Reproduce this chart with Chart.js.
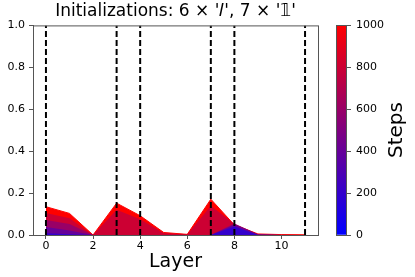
<!DOCTYPE html>
<html>
<head>
<meta charset="utf-8">
<script src="https://cdn.jsdelivr.net/npm/chart.js@4"></script>
<style>
  body { margin: 0; background: #fff; }
  #wrap { position: relative; width: 415px; height: 277px; }
  #main { position: absolute; left: 0; top: 0; }
  #cbar { position: absolute; left: 330px; top: 0; }
</style>
</head>
<body>
<div id="wrap">
  <canvas id="main" width="330" height="277"></canvas>
  <canvas id="cbar" width="85" height="277"></canvas>
</div>
<script>
// layers on the x axis
const layers = [0, 1, 2, 3, 4, 5, 6, 7, 8, 9, 10, 11];
// layers initialised with 'I' (dashed lines)
const identityLayers = [0, 3, 4, 7, 8, 11];
const xTicks = [0, 2, 4, 6, 8, 10];
const yTicks = [0, 0.2, 0.4, 0.6, 0.8, 1.0];
const stepTicks = [0, 200, 400, 600, 800, 1000];

// value per layer at a few training steps
const steps = [0, 200, 400, 600, 800, 1000];
const step0    = [0, 0, 0, 0, 0, 0, 0, 0, 0, 0, 0, 0];
const step200  = [0.008, 0.003, 0, 0, 0, 0, 0, 0, 0.04, 0, 0, 0];
const step400  = [0.038, 0.022, 0, 0, 0, 0, 0, 0, 0.05, 0.002, 0, 0];
const step600  = [0.072, 0.052, 0, 0, 0, 0, 0, 0, 0.055, 0.004, 0, 0];
const step800  = [0.105, 0.080, 0, 0.12, 0.075, 0.008, 0.002, 0.14, 0.052, 0.004, 0.001, 0];
const step1000 = [0.135, 0.103, 0, 0.152, 0.092, 0.012, 0.003, 0.171, 0.048, 0.005, 0.002, 0.001];
const stepValues = [step0, step200, step400, step600, step800, step1000];

function stepColor(s) {
  const t = s / 1000;
  return 'rgb(' + Math.round(255 * t) + ',0,' + Math.round(255 * (1 - t)) + ')';
}

const datasets = [];
identityLayers.forEach(function(l) {
  datasets.push({
    data: [{x: l, y: 0}, {x: l, y: 1}],
    borderColor: '#000',
    borderWidth: 2,
    borderDash: [6, 3],
    pointRadius: 0,
    fill: false
  });
});
// first dataset is drawn on top, so early steps go first
steps.forEach(function(s, i) {
  datasets.push({
    data: layers.map(function(l, j) { return {x: l, y: stepValues[i][j]}; }),
    borderColor: stepColor(s),
    backgroundColor: stepColor(s),
    borderWidth: s === 1000 ? 1 : 0,
    pointRadius: 0,
    tension: 0,
    fill: 'origin'
  });
});

const frame = {
  id: 'frame',
  afterDraw: function(chart) {
    const a = chart.chartArea, c = chart.ctx;
    c.save();
    c.strokeStyle = '#555';
    c.lineWidth = 1;
    c.strokeRect(a.left + 0.5, a.top + 0.5, a.right - a.left, a.bottom - a.top);
    c.restore();
  }
};

const tickFont = {family: 'DejaVu Sans', size: 11};

new Chart(document.getElementById('main'), {
  type: 'line',
  data: {datasets: datasets},
  options: {
    responsive: false,
    animation: false,
    layout: {padding: {left: 0, right: 12, top: 0, bottom: 0}},
    plugins: {
      legend: {display: false},
      tooltip: {enabled: false},
      title: {
        display: true,
        fullSize: false,
        text: "Initializations: 6 \u00d7 '\uD835\uDC3C', 7 \u00d7 '\uD835\uDFD9'",
        color: '#000',
        font: {family: 'DejaVu Sans', size: 17, weight: 'normal'},
        padding: {top: 1, bottom: 4}
      }
    },
    scales: {
      x: {
        type: 'linear',
        min: -0.55,
        max: 11.55,
        afterBuildTicks: function(s) { s.ticks = xTicks.map(function(v) { return {value: v}; }); },
        afterFit: function(s) { s.height = 42; },
        grid: {drawOnChartArea: false, drawTicks: true, tickLength: 4, color: '#555'},
        border: {color: '#555'},
        ticks: {color: '#000', font: tickFont, padding: 1, maxRotation: 0},
        title: {display: true, text: 'Layer', color: '#000', font: {family: 'DejaVu Sans', size: 19}, padding: {top: 0}}
      },
      y: {
        min: 0,
        max: 1,
        afterBuildTicks: function(s) { s.ticks = yTicks.map(function(v) { return {value: v}; }); },
        afterFit: function(s) { s.width = 33; },
        grid: {drawOnChartArea: false, drawTicks: true, tickLength: 4, color: '#555'},
        border: {color: '#555'},
        ticks: {color: '#000', font: tickFont, padding: 4, callback: function(v) { return v.toFixed(1); }}
      }
    }
  },
  plugins: [frame]
});

const cbarFrame = {
  id: 'cbarFrame',
  afterDraw: function(chart) {
    const a = chart.chartArea, c = chart.ctx;
    c.save();
    c.strokeStyle = '#555';
    c.lineWidth = 1;
    c.strokeRect(a.left + 0.5, a.top + 0.5, a.right - a.left - 1, a.bottom - a.top);
    c.fillStyle = '#000';
    c.font = '20px "DejaVu Sans"';
    c.textAlign = 'center';
    c.textBaseline = 'middle';
    c.translate(67, (a.top + a.bottom) / 2);
    c.rotate(-Math.PI / 2);
    c.fillText('Steps', 0, 0);
    c.restore();
  }
};

new Chart(document.getElementById('cbar'), {
  type: 'bar',
  data: {
    labels: [''],
    datasets: [{
      data: [1000],
      barPercentage: 1,
      categoryPercentage: 1,
      backgroundColor: function(ctx) {
        const a = ctx.chart.chartArea;
        if (!a) return stepColor(1000);
        const g = ctx.chart.ctx.createLinearGradient(0, a.bottom, 0, a.top);
        g.addColorStop(0, stepColor(0));
        g.addColorStop(1, stepColor(1000));
        return g;
      }
    }]
  },
  options: {
    responsive: false,
    animation: false,
    layout: {padding: {left: 6, right: 0, top: 25, bottom: 42}},
    plugins: {legend: {display: false}, tooltip: {enabled: false}},
    scales: {
      x: {display: false},
      y: {
        position: 'right',
        min: 0,
        max: 1000,
        afterBuildTicks: function(s) { s.ticks = stepTicks.map(function(v) { return {value: v}; }); },
        afterFit: function(s) { s.width = 68; },
        grid: {drawOnChartArea: false, drawTicks: true, tickLength: 4, color: '#555'},
        border: {display: false},
        ticks: {color: '#000', font: tickFont, padding: 5, callback: function(v) { return String(v); }}
      }
    }
  },
  plugins: [cbarFrame]
});
</script>
</body>
</html>
